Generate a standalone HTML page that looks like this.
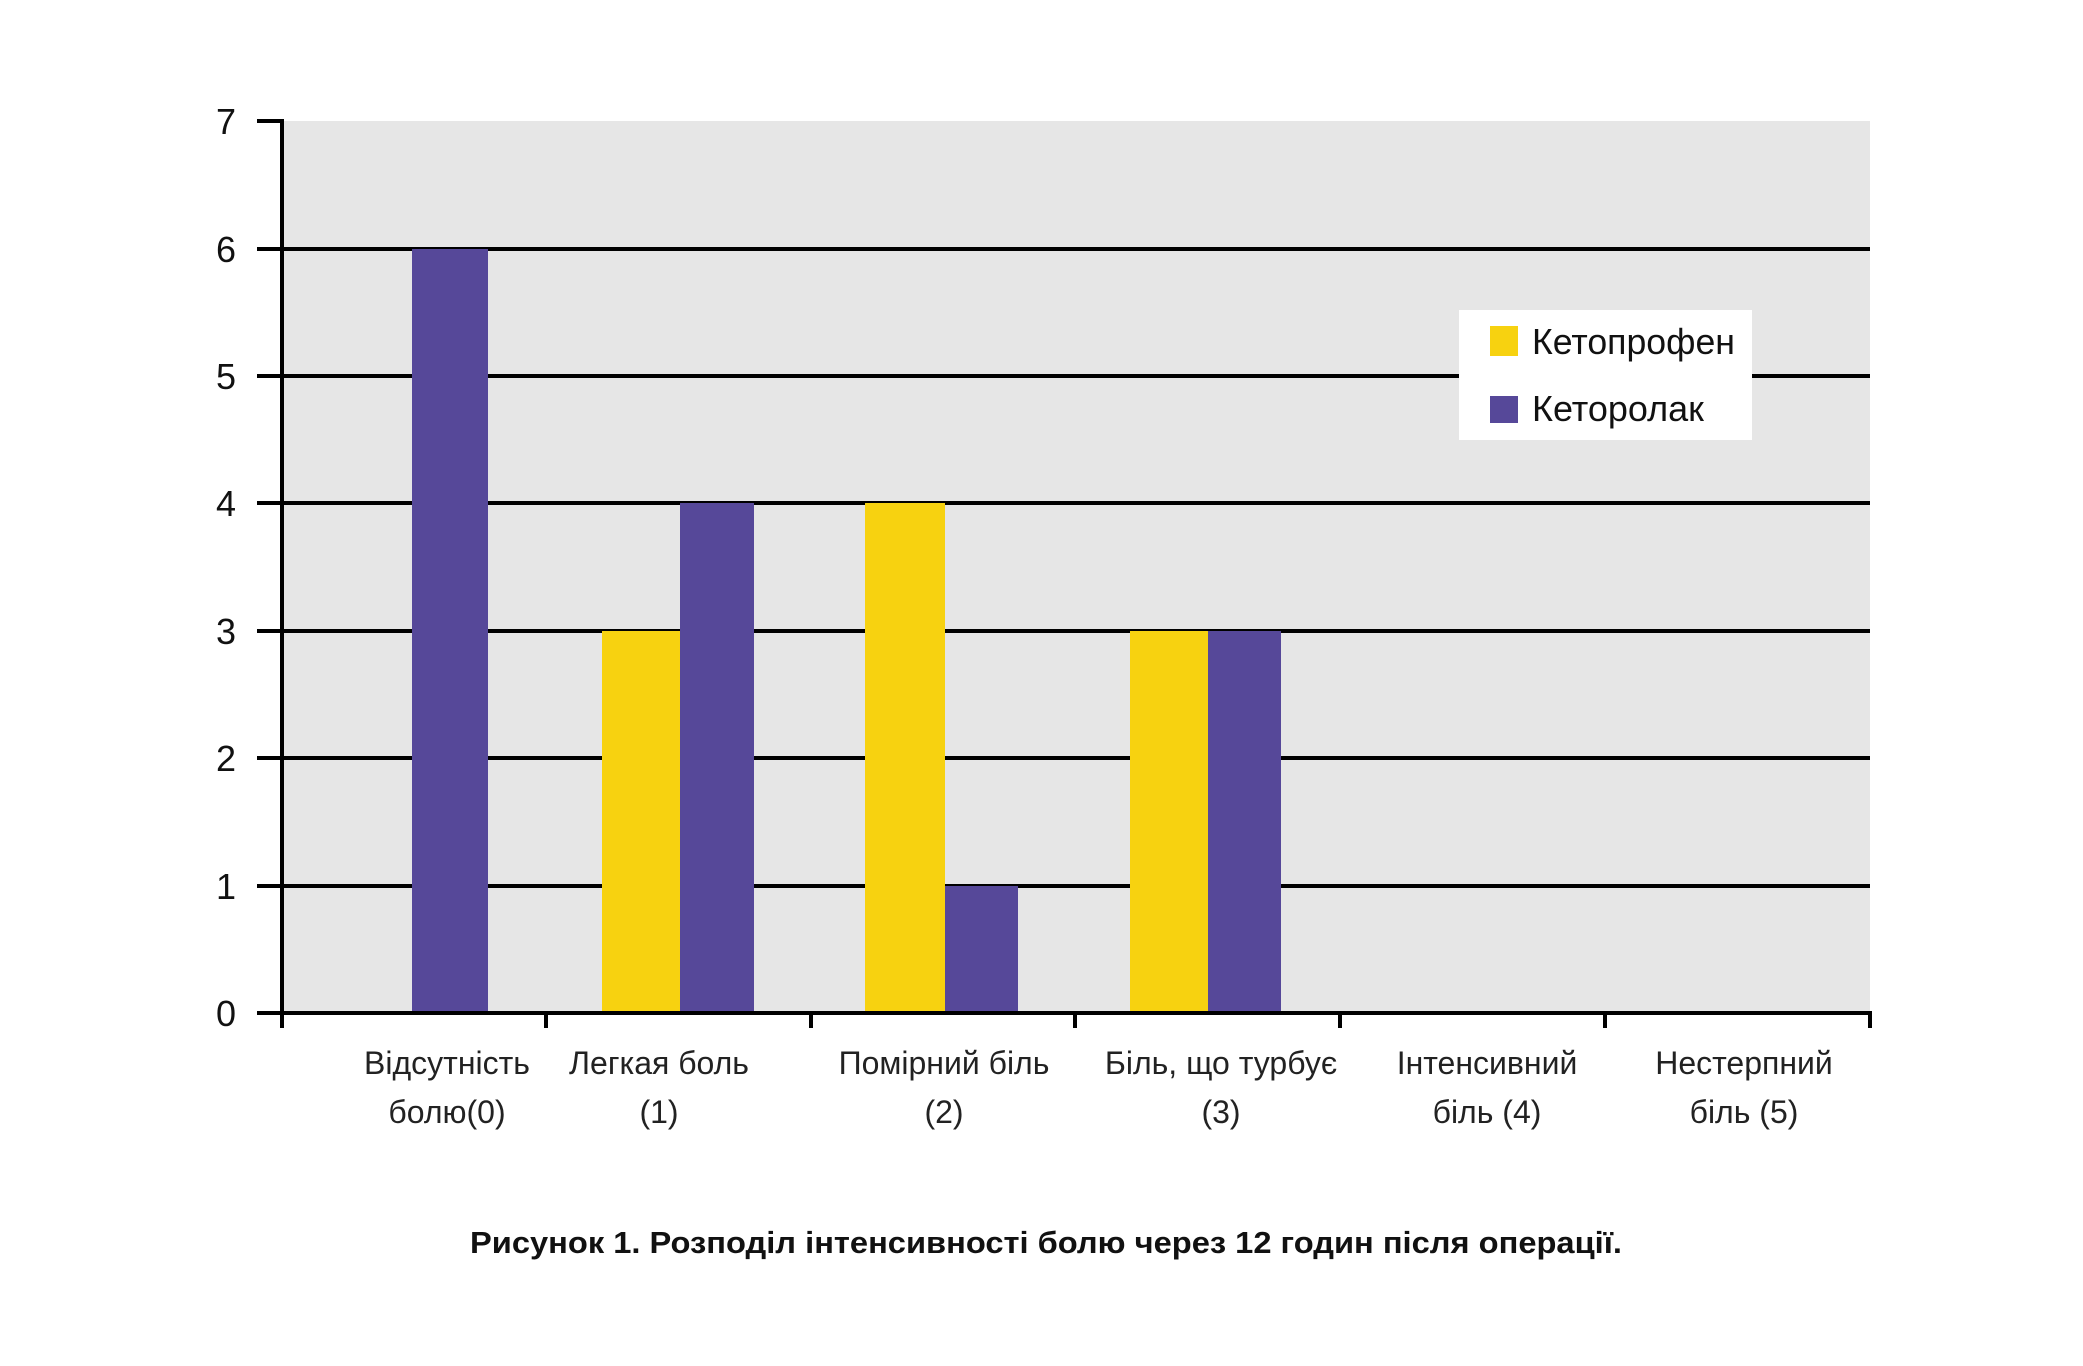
<!DOCTYPE html><html><head><meta charset="utf-8"><style>body{margin:0;background:#fff}</style></head><body>
<svg width="2083" height="1361" xmlns="http://www.w3.org/2000/svg" font-family="Liberation Sans, DejaVu Sans, sans-serif">
<rect width="2083" height="1361" fill="#fff"/>
<rect x="282" y="121" width="1588" height="892" fill="#e6e6e6"/>
<g stroke="#000" stroke-width="4">
<line x1="257" y1="121" x2="282" y2="121"/>
<line x1="257" y1="249" x2="1870" y2="249"/>
<line x1="257" y1="376" x2="1870" y2="376"/>
<line x1="257" y1="503" x2="1870" y2="503"/>
<line x1="257" y1="631" x2="1870" y2="631"/>
<line x1="257" y1="758" x2="1870" y2="758"/>
<line x1="257" y1="886" x2="1870" y2="886"/>
</g>
<g fill="#f7d210">
<rect x="602" y="631" width="78" height="382"/>
<rect x="865" y="503" width="80" height="510"/>
<rect x="1130" y="631" width="78" height="382"/>
</g>
<g fill="#564899">
<rect x="412" y="249" width="76" height="764"/>
<rect x="680" y="503" width="74" height="510"/>
<rect x="945" y="886" width="73" height="127"/>
<rect x="1208" y="631" width="73" height="382"/>
</g>
<g stroke="#000" stroke-width="4">
<line x1="282" y1="119" x2="282" y2="1028"/>
<line x1="257" y1="1013" x2="1872" y2="1013"/>
<line x1="546" y1="1013" x2="546" y2="1028"/>
<line x1="811" y1="1013" x2="811" y2="1028"/>
<line x1="1075" y1="1013" x2="1075" y2="1028"/>
<line x1="1340" y1="1013" x2="1340" y2="1028"/>
<line x1="1605" y1="1013" x2="1605" y2="1028"/>
<line x1="1870" y1="1013" x2="1870" y2="1028"/>
</g>
<g font-size="36" text-anchor="middle" fill="#111">
<text x="226" y="134">7</text><text x="226" y="262">6</text><text x="226" y="389">5</text>
<text x="226" y="516">4</text><text x="226" y="644">3</text><text x="226" y="771">2</text>
<text x="226" y="899">1</text><text x="226" y="1026">0</text>
</g>
<g font-size="32" text-anchor="middle" fill="#222">
<text x="447" y="1074">Відсутність</text><text x="447" y="1123">болю(0)</text>
<text x="659" y="1074">Легкая боль</text><text x="659" y="1123">(1)</text>
<text x="944" y="1074">Помірний біль</text><text x="944" y="1123">(2)</text>
<text x="1221" y="1074">Біль, що турбує</text><text x="1221" y="1123">(3)</text>
<text x="1487" y="1074">Інтенсивний</text><text x="1487" y="1123">біль (4)</text>
<text x="1744" y="1074">Нестерпний</text><text x="1744" y="1123">біль (5)</text>
</g>
<rect x="1459" y="310" width="293" height="130" fill="#fff"/>
<rect x="1490" y="326" width="28" height="30" fill="#f7d210"/>
<rect x="1490" y="396" width="28" height="27" fill="#564899"/>
<g font-size="36" fill="#111">
<text x="1532" y="354" textLength="203" lengthAdjust="spacingAndGlyphs">Кетопрофен</text>
<text x="1532" y="421">Кеторолак</text>
</g>
<text x="1046" y="1253" font-size="31" font-weight="bold" text-anchor="middle" fill="#111" textLength="1152" lengthAdjust="spacingAndGlyphs">Рисунок 1. Розподіл інтенсивності болю через 12 годин після операції.</text>
</svg>
</body></html>
